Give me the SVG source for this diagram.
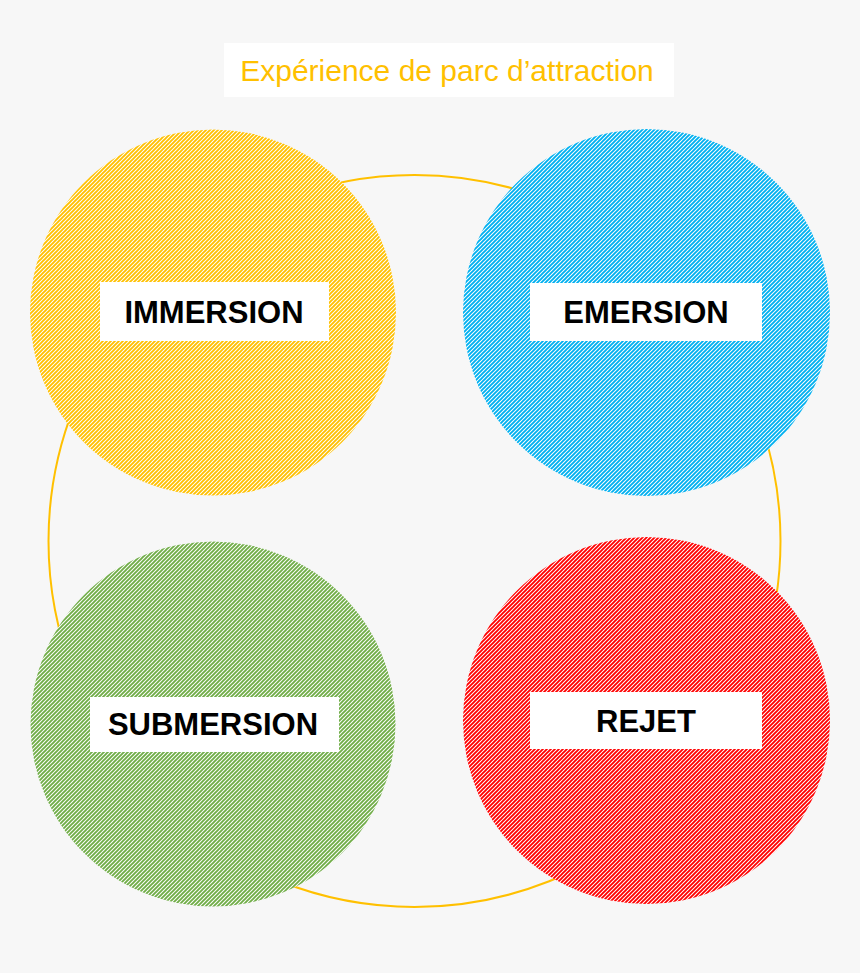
<svg xmlns="http://www.w3.org/2000/svg" width="860" height="973" viewBox="0 0 860 973">
<style>
.bg{fill:#F7F7F7}
.ring{fill:none;stroke:#FFC000;stroke-width:2}
.box{fill:#FFFFFF}
.lbl{font-family:"Liberation Sans",Arial,sans-serif;font-weight:bold;font-size:31px;fill:#000000;text-anchor:middle}
.title{font-family:"Liberation Sans",Arial,sans-serif;font-size:30px;fill:#FFC000;text-anchor:middle}
</style>
<defs>
<pattern id="hY" patternUnits="userSpaceOnUse" width="4" height="4">
<rect width="4" height="4" fill="#FFFFFF"/>
<path d="M-1,1 L1,-1 M0,4 L4,0 M3,5 L5,3" stroke="#FFC000" stroke-width="1.9"/>
</pattern>
<pattern id="hB" patternUnits="userSpaceOnUse" width="4" height="4">
<rect width="4" height="4" fill="#FFFFFF"/>
<path d="M-1,1 L1,-1 M0,4 L4,0 M3,5 L5,3" stroke="#00B0F0" stroke-width="1.9"/>
</pattern>
<pattern id="hG" patternUnits="userSpaceOnUse" width="4" height="4">
<rect width="4" height="4" fill="#FFFFFF"/>
<path d="M-1,1 L1,-1 M0,4 L4,0 M3,5 L5,3" stroke="#70AD47" stroke-width="1.9"/>
</pattern>
<pattern id="hR" patternUnits="userSpaceOnUse" width="4" height="4">
<rect width="4" height="4" fill="#FFFFFF"/>
<path d="M-1,1 L1,-1 M0,4 L4,0 M3,5 L5,3" stroke="#FF0000" stroke-width="1.9"/>
</pattern>
</defs>
<rect class="bg" x="0" y="0" width="860" height="973"/>
<g id="title">
<rect class="box" x="224" y="43" width="450" height="54"/>
<text class="title" x="447" y="81">Expérience de parc d’attraction</text>
</g>
<g id="connectors">
<circle class="ring" cx="414.5" cy="541" r="366"/>
</g>
<g id="immersion">
<circle cx="213" cy="312.5" r="183" fill="url(#hY)"/>
<rect class="box" x="100" y="282" width="229" height="59"/>
<text class="lbl" x="214" y="323">IMMERSION</text>
</g>
<g id="emersion">
<circle cx="646.5" cy="312.5" r="183.5" fill="url(#hB)"/>
<rect class="box" x="530" y="283" width="232" height="58"/>
<text class="lbl" x="646" y="323">EMERSION</text>
</g>
<g id="submersion">
<circle cx="213" cy="724" r="182.5" fill="url(#hG)"/>
<rect class="box" x="90" y="697" width="249" height="55"/>
<text class="lbl" x="213" y="735">SUBMERSION</text>
</g>
<g id="rejet">
<circle cx="646.5" cy="720.5" r="183.5" fill="url(#hR)"/>
<rect class="box" x="530" y="692" width="232" height="57"/>
<text class="lbl" x="646" y="732">REJET</text>
</g>
</svg>
